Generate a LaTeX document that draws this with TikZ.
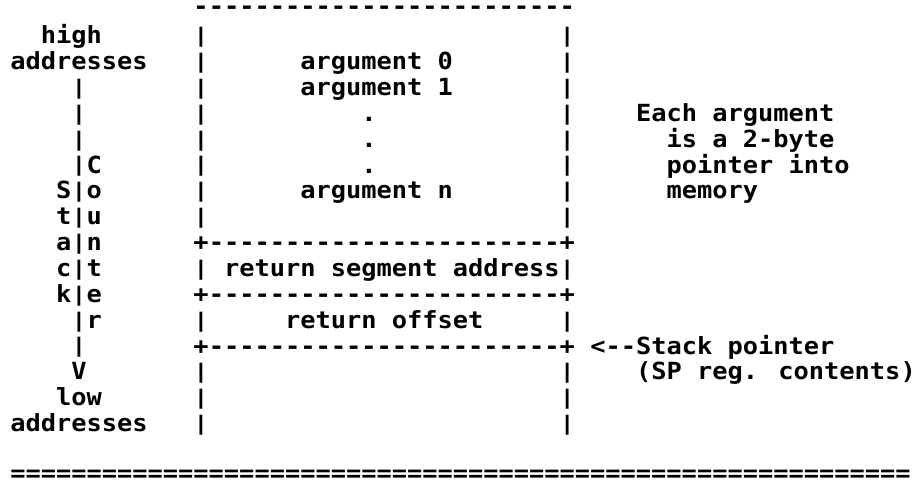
\documentclass[tikz,border=0pt]{standalone}
\usepackage{fontspec}
\usepackage{graphicx}
\newfontfamily\mono{DejaVu Sans Mono}[FakeStretch=1.074]
\newcommand\vb{\raisebox{1.2pt}{\scalebox{1}[0.85]{|}}}
\newcommand\rep[2]{\foreach\i in {1,...,#1}{#2\kern0pt}}
\newcommand\tx[4]{\node[tt] (#1) at ({10.37+#2*15.26},{18+#3*25.85}) {#4};}
\tikzset{tt/.style={anchor=base west,inner sep=0pt,outer sep=0pt,font=\mono\bfseries\fontsize{23.6}{25}\selectfont}}
\begin{document}
\begin{tikzpicture}[x=1pt,y=-1pt]
\fill[white] (0,0) rectangle (914,484);
\useasboundingbox (0,0) rectangle (914,484);
% top edge of the box
\node[tt] (top) at ({10.37+12*15.26},14.5) {\rep{25}{-}};
% row 1
\tx{high}{2}{1}{high}
\tx{l1}{12}{1}{\vb}
\tx{r1}{36}{1}{\vb}
% row 2
\tx{hiaddr}{0}{2}{addresses}
\tx{l2}{12}{2}{\vb}
\tx{arg0}{19}{2}{argument 0}
\tx{r2}{36}{2}{\vb}
% row 3
\tx{s3}{4}{3}{\vb}
\tx{l3}{12}{3}{\vb}
\tx{arg1}{19}{3}{argument 1}
\tx{r3}{36}{3}{\vb}
% row 4
\tx{s4}{4}{4}{\vb}
\tx{l4}{12}{4}{\vb}
\tx{d4}{23}{4}{.}
\tx{r4}{36}{4}{\vb}
\tx{each}{41}{4}{Each argument}
% row 5
\tx{s5}{4}{5}{\vb}
\tx{l5}{12}{5}{\vb}
\tx{d5}{23}{5}{.}
\tx{r5}{36}{5}{\vb}
\tx{isa}{43}{5}{is a 2-byte}
% row 6
\tx{s6}{4}{6}{\vb C}
\tx{l6}{12}{6}{\vb}
\tx{d6}{23}{6}{.}
\tx{r6}{36}{6}{\vb}
\tx{ptr}{43}{6}{pointer into}
% row 7
\tx{s7}{3}{7}{S\vb o}
\tx{l7}{12}{7}{\vb}
\tx{argn}{19}{7}{argument n}
\tx{r7}{36}{7}{\vb}
\tx{mem}{43}{7}{memory}
% row 8
\tx{s8}{3}{8}{t\vb u}
\tx{l8}{12}{8}{\vb}
\tx{r8}{36}{8}{\vb}
% row 9
\tx{s9}{3}{9}{a\vb n}
\tx{sep9}{12}{9}{+\rep{23}{-}+}
% row 10
\tx{s10}{3}{10}{c\vb t}
\tx{l10}{12}{10}{\vb}
\tx{retseg}{14}{10}{return segment address}
\tx{r10}{36}{10}{\vb}
% row 11
\tx{s11}{3}{11}{k\vb e}
\tx{sep11}{12}{11}{+\rep{23}{-}+}
% row 12
\tx{s12}{4}{12}{\vb r}
\tx{l12}{12}{12}{\vb}
\tx{retoff}{18}{12}{return offset}
\tx{r12}{36}{12}{\vb}
% row 13
\tx{s13}{4}{13}{\vb}
\tx{sep13}{12}{13}{+\rep{23}{-}+}
\tx{sp}{38}{13}{<-\kern0pt-Stack pointer}
% row 14
\tx{s14}{4}{14}{V}
\tx{l14}{12}{14}{\vb}
\tx{r14}{36}{14}{\vb}
\tx{spreg}{41}{14}{(SP reg. contents)}
% row 15
\tx{low}{3}{15}{low}
\tx{l15}{12}{15}{\vb}
\tx{r15}{36}{15}{\vb}
% row 16
\tx{loaddr}{0}{16}{addresses}
\tx{l16}{12}{16}{\vb}
\tx{r16}{36}{16}{\vb}
% bottom rule
\node[tt] (eq) at (10.37,481.5) {\rep{59}{=}};
\end{tikzpicture}
\end{document}
